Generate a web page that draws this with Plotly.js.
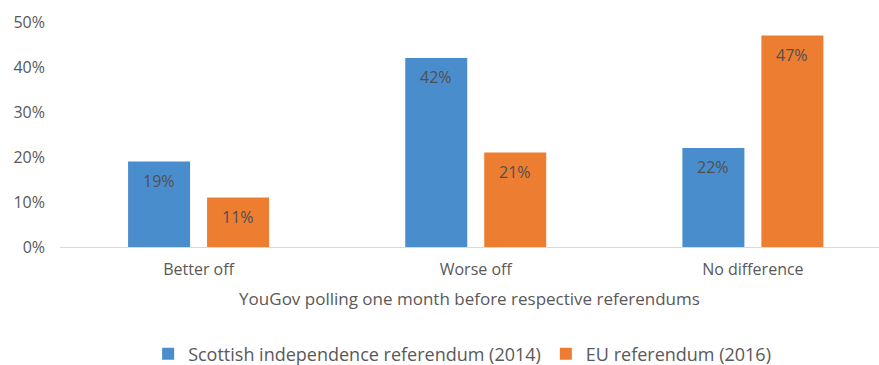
<!DOCTYPE html>
<html>
<head>
<meta charset="utf-8">
<script src="https://cdn.plot.ly/plotly-3.0.1.min.js"></script>
<style>html,body{margin:0;padding:0;background:#fff;}#chart{width:879px;height:365px;}</style>
</head>
<body>
<div id="chart"></div>
<script>
var categories = ["Better off", "Worse off", "No difference"];
var scottish2014 = [19, 42, 22];
var eu2016 = [11, 21, 47];
var seriesNames = ["Scottish independence referendum (2014)", "EU referendum (2016)"];
var yTickVals = [0, 10, 20, 30, 40, 50];
var yTickText = ["0%", "10%", "20%", "30%", "40%", "50%"];
var colors = ["#4A8DCD", "#ED7D31"];

var FONT = "Open Sans, Noto Sans, sans-serif";
var series = [scottish2014, eu2016];
var traces = series.map(function (vals, i) {
  return {
    type: "bar",
    name: seriesNames[i],
    x: categories,
    y: vals,
    marker: { color: colors[i] },
    hoverinfo: "skip"
  };
});

// value labels placed just inside bar tops
var annotations = [];
series.forEach(function (vals, i) {
  vals.forEach(function (v, j) {
    annotations.push({
      x: j, y: v, xref: "x", yref: "y",
      text: v + "%",
      showarrow: false,
      xshift: (i === 0 ? -39.5 : 39.5),
      yshift: -19,
      yanchor: "middle",
      font: { family: FONT, size: 16, color: "#505050" }
    });
  });
});

var layout = {
  width: 879, height: 365,
  margin: { l: 60, r: 0, t: 22, b: 118, autoexpand: false },
  paper_bgcolor: "#fff", plot_bgcolor: "#fff",
  bargap: 0.43, bargroupgap: 0.215,
  barmode: "group",
  font: { family: FONT, size: 15, color: "#595959" },
  xaxis: {
    type: "category",
    range: [-0.5, 2.455],
    automargin: false,
    showline: true, linecolor: "#d9d9d9", linewidth: 1,
    showgrid: false, zeroline: false, ticks: "",
    ticklabelstandoff: 8,
    tickfont: { family: FONT, size: 16, color: "#595959" },
    title: { text: "YouGov polling one month before respective referendums", font: { family: FONT, size: 17, color: "#595959" }, standoff: 13 }
  },
  yaxis: {
    range: [0, 50],
    automargin: false,
    tickvals: yTickVals, ticktext: yTickText,
    showgrid: false, zeroline: false, showline: false,
    ticks: "", ticklabelstandoff: 14,
    tickfont: { family: FONT, size: 16, color: "#595959" }
  },
  legend: {
    orientation: "h", x: 0.491, xanchor: "center", y: -0.476, yanchor: "middle",
    font: { family: FONT, size: 18, color: "#595959" },
    itemwidth: 30, tracegroupgap: 0
  },
  annotations: annotations,
  showlegend: true
};

Plotly.newPlot("chart", traces, layout, { displayModeBar: false, staticPlot: true });
</script>
</body>
</html>
